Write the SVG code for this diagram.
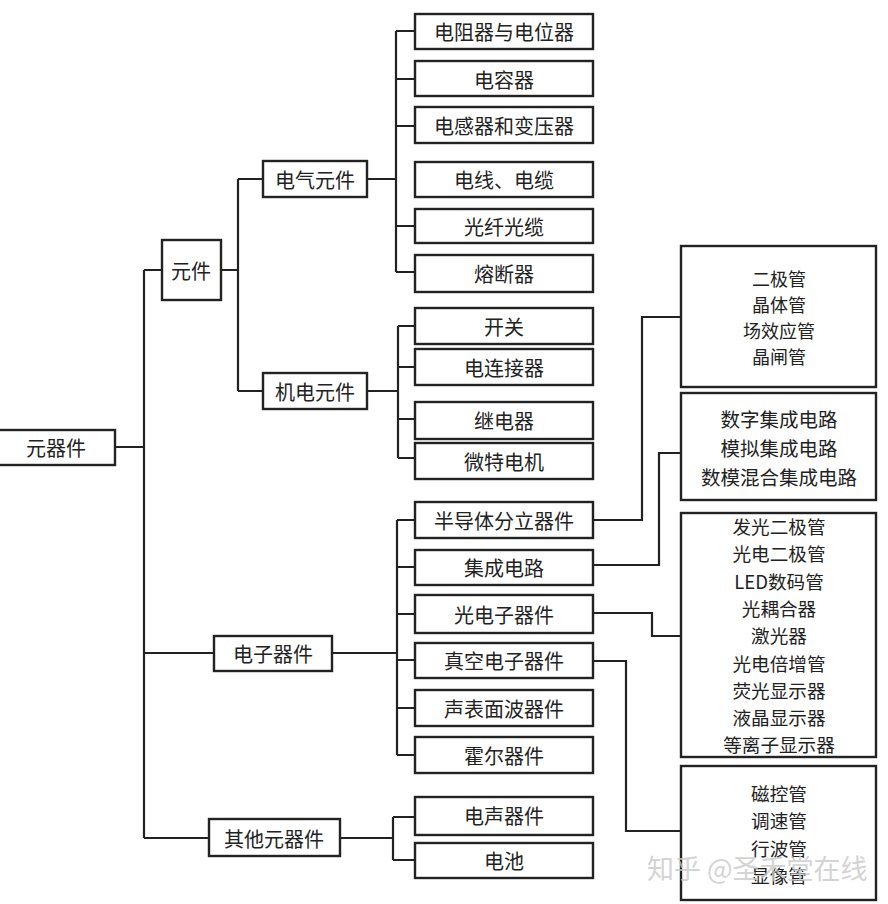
<svg xmlns="http://www.w3.org/2000/svg" width="888" height="904" viewBox="0 0 888 904">
<style>
.b{fill:#fff;stroke:#222;stroke-width:2.4}
.t{font-family:"Noto Sans CJK SC","Liberation Serif",serif;font-size:20px;fill:#222;text-anchor:middle;dominant-baseline:central}
.s18{font-size:18px}
.s185{font-size:18.6px}
.s195{font-size:19.5px}
.c{fill:none;stroke:#222;stroke-width:2.2}
.w{font-family:"Noto Sans CJK SC",sans-serif;font-size:27px;fill:#c8c8c8;fill-opacity:0.8;dominant-baseline:central}
</style>
<rect width="888" height="904" fill="#fff"/>
<g id="connectors" class="c">
<path d="M115 447H144M144 270V838M144 270H162M144 653H214M144 838H209"/>
<path d="M221 270H238M238 179V391M238 179H263M238 391H263"/>
<path d="M367 179H396M396 31V272M396 31H415M396 79H415M396 126H415M396 226H415M396 272H415"/>
<path d="M367 391H398M398 326V458M398 326H415M398 367H415M398 419H415M398 458H415"/>
<path d="M332 653H397M397 520V755M397 520H415M397 567H415M397 614H415M397 660H415M397 708H415M397 755H415"/>
<path d="M340 838H393M393 817V860M393 817H415M393 860H415"/>
<path d="M593 520H642V317H681"/>
<path d="M593 565H659V453H681"/>
<path d="M593 613H652V636H681"/>
<path d="M593 661H626V831H681"/>
</g>
<g id="n-root"><rect class="b" x="-2" y="430" width="117" height="35"/><text class="t" x="56" y="447">元器件</text></g>
<g id="n-yuanjian"><rect class="b" x="162" y="240" width="59" height="60"/><text class="t" x="191" y="270">元件</text></g>
<g id="n-dianqi"><rect class="b" x="263" y="161" width="104" height="36"/><text class="t" x="315" y="179">电气元件</text></g>
<g id="n-jidian"><rect class="b" x="263" y="373" width="104" height="36"/><text class="t" x="315" y="391">机电元件</text></g>
<g id="n-dianzi"><rect class="b" x="214" y="636" width="118" height="35"/><text class="t" x="273" y="653">电子器件</text></g>
<g id="n-qita"><rect class="b" x="209" y="819" width="131" height="37"/><text class="t" x="274" y="838">其他元器件</text></g>
<g id="n-dianzu"><rect class="b" x="415" y="14" width="178" height="35"/><text class="t" x="504" y="31">电阻器与电位器</text></g>
<g id="n-dianrong"><rect class="b" x="415" y="61" width="178" height="35"/><text class="t" x="504" y="79">电容器</text></g>
<g id="n-dianggan"><rect class="b" x="415" y="107" width="178" height="36"/><text class="t" x="504" y="125">电感器和变压器</text></g>
<g id="n-dianxian"><rect class="b" x="415" y="162" width="178" height="35"/><text class="t" x="504" y="179">电线、电缆</text></g>
<g id="n-guangxian"><rect class="b" x="415" y="209" width="178" height="34"/><text class="t" x="504" y="226">光纤光缆</text></g>
<g id="n-rongduan"><rect class="b" x="415" y="255" width="178" height="37"/><text class="t" x="504" y="273">熔断器</text></g>
<g id="n-kaiguan"><rect class="b" x="415" y="308" width="178" height="36"/><text class="t" x="504" y="326">开关</text></g>
<g id="n-lianjie"><rect class="b" x="415" y="349" width="178" height="36"/><text class="t" x="504" y="367">电连接器</text></g>
<g id="n-jidianqi"><rect class="b" x="415" y="402" width="178" height="37"/><text class="t" x="504" y="420">继电器</text></g>
<g id="n-weite"><rect class="b" x="415" y="443" width="178" height="36"/><text class="t" x="504" y="461">微特电机</text></g>
<g id="n-bandaoti"><rect class="b" x="415" y="502" width="178" height="36"/><text class="t" x="504" y="520">半导体分立器件</text></g>
<g id="n-jicheng"><rect class="b" x="415" y="550" width="178" height="35"/><text class="t" x="504" y="567">集成电路</text></g>
<g id="n-guangdian"><rect class="b" x="415" y="595" width="178" height="38"/><text class="t" x="504" y="614">光电子器件</text></g>
<g id="n-zhenkong"><rect class="b" x="415" y="643" width="178" height="35"/><text class="t" x="504" y="660">真空电子器件</text></g>
<g id="n-shengbiao"><rect class="b" x="415" y="690" width="178" height="36"/><text class="t" x="504" y="708">声表面波器件</text></g>
<g id="n-huoer"><rect class="b" x="415" y="737" width="178" height="36"/><text class="t" x="504" y="755">霍尔器件</text></g>
<g id="n-diansheng"><rect class="b" x="415" y="797" width="178" height="38"/><text class="t" x="504" y="815">电声器件</text></g>
<g id="n-dianchi"><rect class="b" x="415" y="843" width="178" height="35"/><text class="t" x="504" y="860">电池</text></g>
<g id="n-fenli"><rect class="b" x="681" y="246" width="195" height="141"/>
<text class="t s18"><tspan x="779" y="278">二极管</tspan><tspan x="779" y="304">晶体管</tspan><tspan x="779" y="330">场效应管</tspan><tspan x="779" y="356">晶闸管</tspan></text></g>
<g id="n-jichengdl"><rect class="b" x="681" y="393" width="195" height="107"/>
<text class="t s195"><tspan x="779" y="418">数字集成电路</tspan><tspan x="779" y="447">模拟集成电路</tspan><tspan x="779" y="476">数模混合集成电路</tspan></text></g>
<g id="n-guangdianzi"><rect class="b" x="681" y="513" width="195" height="244"/>
<text class="t s185"><tspan x="779" y="525">发光二极管</tspan><tspan x="779" y="552.3">光电二极管</tspan><tspan x="779" y="579.6">LED数码管</tspan><tspan x="779" y="606.9">光耦合器</tspan><tspan x="779" y="634.2">激光器</tspan><tspan x="779" y="661.5">光电倍增管</tspan><tspan x="779" y="688.8">荧光显示器</tspan><tspan x="779" y="716.1">液晶显示器</tspan><tspan x="779" y="743.4">等离子显示器</tspan></text></g>
<g id="n-zhenkongdz"><rect class="b" x="681" y="766" width="195" height="134"/>
<text class="t s185"><tspan x="779" y="792">磁控管</tspan><tspan x="779" y="819.3">调速管</tspan><tspan x="779" y="846.6">行波管</tspan><tspan x="779" y="873.9">显像管</tspan></text></g>
<text class="w" x="647" y="867">知乎 @圣禾堂在线</text>
</svg>
